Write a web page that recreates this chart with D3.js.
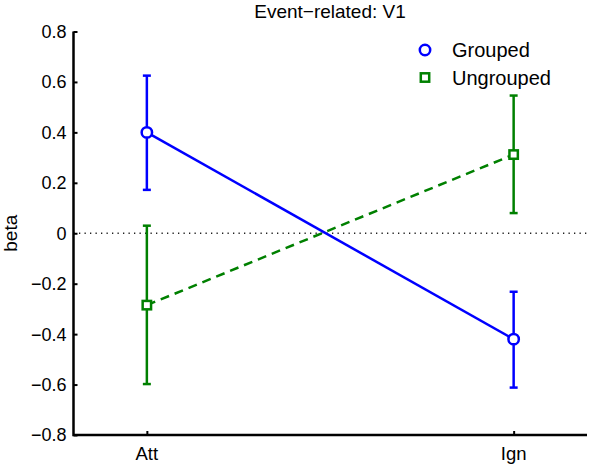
<!DOCTYPE html>
<html>
<head>
<meta charset="utf-8">
<script src="https://cdn.jsdelivr.net/npm/d3@7"></script>
<style>
  body { margin: 0; background: #fff; }
  text { font-family: "Liberation Sans", Arial, sans-serif; fill: #000; }
</style>
</head>
<body>
<svg id="chart" width="596" height="474"></svg>
<script>
// Data
const conditions = ["Att", "Ign"];
const groupedMean = [0.40, -0.42];
const groupedHigh = [0.625, -0.232];
const groupedLow = [0.172, -0.612];
const ungroupedMean = [-0.285, 0.312];
const ungroupedHigh = [0.030, 0.546];
const ungroupedLow = [-0.598, 0.080];
const yTicks = [-0.8, -0.6, -0.4, -0.2, 0, 0.2, 0.4, 0.6, 0.8];

const svg = d3.select("#chart");

// plot area
const plot = { left: 73.5, right: 587, top: 31.5, bottom: 435 };

const x = d3.scaleLinear().domain([0.8, 2.2]).range([plot.left, plot.right]);
const y = d3.scaleLinear().domain([-0.8, 0.8]).range([plot.bottom, plot.top]);

const fmt = d => d === 0 ? "0" : (d < 0 ? "\u2212" + Math.abs(d).toFixed(1) : d.toFixed(1));

// zero reference line
svg.append("line")
  .attr("x1", plot.left).attr("x2", plot.right)
  .attr("y1", y(0)).attr("y2", y(0))
  .attr("stroke", "#222")
  .attr("stroke-width", 1.3)
  .attr("stroke-dasharray", "1.3,4.2");

// series
const series = [
  { name: "Grouped", color: "#0000ff", mean: groupedMean, hi: groupedHigh, lo: groupedLow, dash: null, marker: "circle" },
  { name: "Ungrouped", color: "#008000", mean: ungroupedMean, hi: ungroupedHigh, lo: ungroupedLow, dash: "9,6", marker: "square" }
];

function drawMarker(g, s, cx, cy) {
  if (s.marker === "circle") {
    g.append("circle")
      .attr("cx", cx).attr("cy", cy).attr("r", 5.2)
      .attr("fill", "#fff").attr("stroke", s.color).attr("stroke-width", 2.5);
  } else {
    g.append("rect")
      .attr("x", cx - 4.2).attr("y", cy - 4.2)
      .attr("width", 8.4).attr("height", 8.4)
      .attr("fill", "#fff").attr("stroke", s.color).attr("stroke-width", 2.5);
  }
}

series.forEach(s => {
  const pts = conditions.map((c, i) => ({ x: i + 1, m: s.mean[i], hi: s.hi[i], lo: s.lo[i] }));
  const g = svg.append("g");

  // error bars
  pts.forEach(p => {
    g.append("line")
      .attr("x1", x(p.x)).attr("x2", x(p.x))
      .attr("y1", y(p.hi)).attr("y2", y(p.lo))
      .attr("stroke", s.color).attr("stroke-width", 2.5);
    [p.hi, p.lo].forEach(v => {
      g.append("line")
        .attr("x1", x(p.x) - 4).attr("x2", x(p.x) + 4)
        .attr("y1", y(v)).attr("y2", y(v))
        .attr("stroke", s.color).attr("stroke-width", 2.5);
    });
  });

  // connecting line
  g.append("path")
    .datum(pts)
    .attr("fill", "none")
    .attr("stroke", s.color)
    .attr("stroke-width", 2.5)
    .attr("stroke-dasharray", s.dash)
    .attr("d", d3.line().x(p => x(p.x)).y(p => y(p.m)));

  // markers
  pts.forEach(p => drawMarker(g, s, x(p.x), y(p.m)));
});

// axes (ticks point inward, like MATLAB)
const yAxis = svg.append("g")
  .attr("transform", "translate(" + plot.left + ",0)")
  .call(d3.axisRight(y).tickValues(yTicks).tickSize(4).tickFormat(""));
yAxis.select(".domain").remove();
yAxis.selectAll(".tick line").attr("stroke-width", 2);

const xAxis = svg.append("g")
  .attr("transform", "translate(0," + plot.bottom + ")")
  .call(d3.axisTop(x).tickValues([1, 2]).tickSize(4).tickFormat(""));
xAxis.select(".domain").remove();
xAxis.selectAll(".tick line").attr("stroke-width", 2);

svg.append("path")
  .attr("d", "M" + plot.left + "," + plot.top + "V" + plot.bottom + "H" + plot.right)
  .attr("fill", "none").attr("stroke", "#000").attr("stroke-width", 2.5);

// tick labels
svg.selectAll(".ylab")
  .data(yTicks)
  .enter().append("text")
  .attr("class", "ylab")
  .attr("x", plot.left - 7)
  .attr("y", d => y(d))
  .attr("dy", "0.36em")
  .attr("text-anchor", "end")
  .style("font-size", "18px")
  .text(fmt);

svg.selectAll(".xlab")
  .data(conditions)
  .enter().append("text")
  .attr("class", "xlab")
  .attr("x", (d, i) => x(i + 1))
  .attr("y", plot.bottom + 25)
  .attr("text-anchor", "middle")
  .style("font-size", "18.5px")
  .text(d => d);

// y label
svg.append("text")
  .attr("transform", "translate(17," + y(0) + ") rotate(-90)")
  .attr("text-anchor", "middle")
  .style("font-size", "19px")
  .text("beta");

// title
svg.append("text")
  .attr("x", 330)
  .attr("y", 18)
  .attr("text-anchor", "middle")
  .style("font-size", "19px")
  .text("Event\u2212related: V1");

// legend
const legend = svg.append("g");
series.forEach((s, i) => {
  const ly = 50 + i * 27.5;
  drawMarker(legend, s, 425, ly);
  legend.append("text")
    .attr("x", 452)
    .attr("y", ly + 7)
    .style("font-size", "20px")
    .text(s.name);
});
</script>
</body>
</html>
